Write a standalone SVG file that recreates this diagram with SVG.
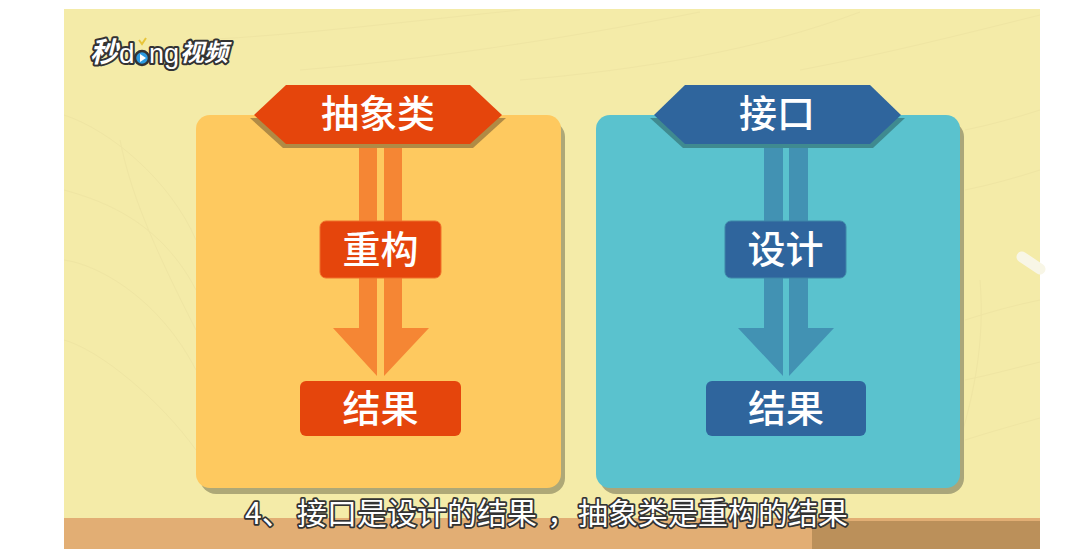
<svg xmlns="http://www.w3.org/2000/svg" width="1084" height="556" viewBox="0 0 1084 556">
<style>
.cjk{font-family:"Noto Sans CJK SC","Noto Sans",sans-serif;text-anchor:middle}
.lbl{font-size:38px;fill:#fff;font-weight:500}
.cap{font-size:30px;fill:#fff;stroke:#333;stroke-width:3.500px;paint-order:stroke;stroke-linejoin:round;text-anchor:start}
.leaf{fill:none;stroke:#efe5a3;stroke-width:1}
.or{fill:#e5450c}.bl{fill:#2f659d}
.oa{fill:#f58634}.ba{fill:#4292b3}
.lg{fill:#fff;stroke:#333;stroke-width:4px;paint-order:stroke;stroke-linejoin:round}
</style>
<rect width="1084" height="556" fill="#fff"/>
<rect x="64" y="9" width="976" height="510" fill="#f4eba8"/>
<g class="leaf">
<path d="M64 115C110 130 170 180 196 240M64 190C100 200 160 220 196 290M64 260C100 265 160 300 196 370M64 340C100 350 160 400 196 450M120 140C130 190 150 240 196 330"/>
<path d="M200 40C300 35 420 20 520 10M300 70C420 60 560 40 700 12M520 80C640 70 760 50 860 12M800 70C880 55 960 35 1040 15"/>
<path d="M965 130C990 125 1015 118 1040 110M965 190C990 185 1015 178 1040 170M965 320C990 312 1015 305 1040 300M965 380C990 375 1015 368 1040 362M965 440C990 432 1015 425 1040 418M980 280C985 340 975 400 950 470"/>
</g>
<path d="M1022 257L1040 269" stroke="#f8f6e6" stroke-width="11" stroke-linecap="round" fill="none"/>
<rect x="64" y="518" width="976" height="31" fill="#e2ae74"/>
<rect x="812" y="521" width="228" height="28" fill="#bb905a"/>
<g id="logo">
<text class="lg" x="90" y="62" font-family="'Noto Sans CJK SC',sans-serif" font-size="28" font-style="italic" font-weight="700">秒</text>
<text class="lg" x="119" y="63" font-family="'Liberation Sans',sans-serif" font-size="28">d</text>
<text class="lg" x="149" y="63" font-family="'Liberation Sans',sans-serif" font-size="27">ng</text>
<circle cx="142" cy="58" r="7" fill="#2b9ae0" stroke="#333" stroke-width="2.500"/>
<path d="M140 54l6 4-6 4z" fill="#fff"/>
<path d="M139 40l3 4 4-6" fill="none" stroke="#e8c53a" stroke-width="2"/>
<text class="lg" x="180" y="61" font-family="'Noto Sans CJK SC',sans-serif" font-size="24" font-style="italic" font-weight="700">视频</text>
</g>
<g id="panel-left">
<rect x="200" y="121" width="365" height="373" rx="16" fill="#aea877"/>
<rect x="196" y="115" width="365" height="373" rx="14" fill="#fec95f"/>
</g>
<g id="panel-right">
<rect x="600" y="121" width="364" height="373" rx="16" fill="#aaa67a"/>
<rect x="596" y="115" width="364" height="373" rx="14" fill="#5ac2ce"/>
</g>
<g id="connectors">
<path class="oa" d="M359 147h18v229l-44-48h26z"/>
<path class="oa" d="M384 147h18v181h27l-45 48z"/>
<path class="ba" d="M764 147h19v229l-45-48h26z"/>
<path class="ba" d="M789 147h19v181h26l-45 48z"/>
</g>
<g id="abstract">
<path d="M250 118L283 148H473L506 118Z" fill="#b08a45"/>
<path class="or" d="M286 85H470L502 115L470 144H286L254 115Z"/>
<text class="cjk lbl" x="378" y="127">抽象类</text>
</g>
<g id="interface">
<path d="M650 118L683 148H873L905 118Z" fill="#3f8a90"/>
<path class="bl" d="M685 85H870L901 115L870 144H685L654 115Z"/>
<text class="cjk lbl" x="777" y="127">接口</text>
</g>
<g id="refactor">
<rect class="or" x="320" y="221" width="121" height="57" rx="6" stroke="#f0702a" stroke-width="1"/>
<text class="cjk lbl" x="380.500" y="263">重构</text>
</g>
<g id="result-left">
<rect class="or" x="300" y="381" width="161" height="55" rx="6"/>
<text class="cjk lbl" x="380.500" y="422">结果</text>
</g>
<g id="design">
<rect class="bl" x="725" y="221" width="121" height="57" rx="6" stroke="#3f86a8" stroke-width="1"/>
<text class="cjk lbl" x="785.500" y="263">设计</text>
</g>
<g id="result-right">
<rect class="bl" x="706" y="381" width="160" height="55" rx="6"/>
<text class="cjk lbl" x="786" y="422">结果</text>
</g>
<text class="cjk cap" y="524"><tspan x="245">4、</tspan><tspan x="297">接口是设计的结果</tspan><tspan x="547">，</tspan><tspan x="578">抽象类是重构的结果</tspan></text>
</svg>
